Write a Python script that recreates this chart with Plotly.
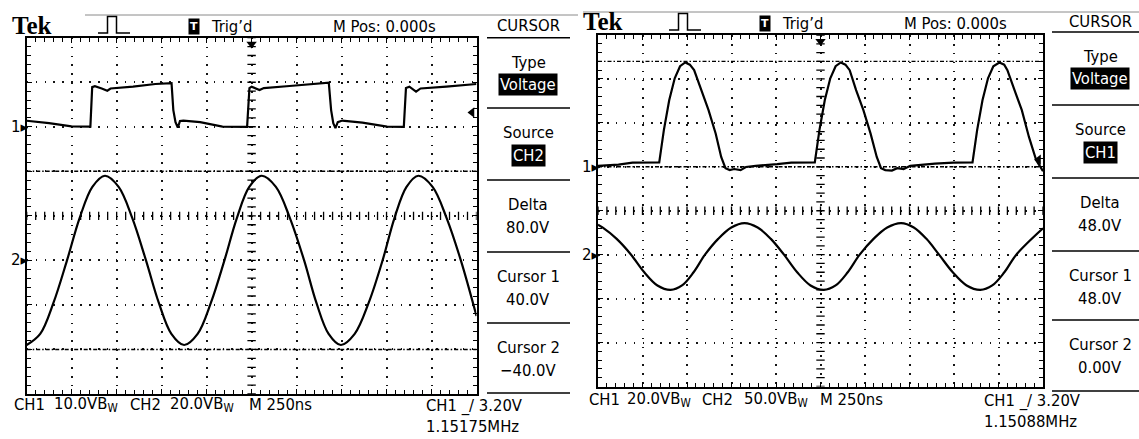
import plotly.graph_objects as go
import numpy as np

W, H = 1139, 439

# ---------------- data (time in ns, voltage in V) ----------------
# Left capture: CH1 10 V/div, CH2 20 V/div, 250 ns/div
L_CH1_T = [0, 124, 249, 354, 364, 379, 417, 448, 466, 591, 715, 796, 805, 815, 827, 840, 852, 871, 964, 1088,
           1225, 1238, 1250, 1294, 1318, 1461, 1667, 1679, 1692, 1704, 1716, 1729, 1754, 1866, 2003,
           2096, 2108, 2127, 2164, 2189, 2332, 2500]
L_CH1_V = [1.35, 0.83, 0.1, 0.04, 8.9, 9.1, 8.6, 8.1, 8.6, 9.0, 9.6, 9.9, 9.8, 3.75, 1.05, -0.2, 1.3, 1.4, 1.05, 0.05,
           0.0, 8.7, 9.0, 8.25, 8.7, 9.15, 10.0, 9.9, 3.75, 0.8, -0.3, 1.05, 1.4, 0.95, 0.05,
           0.0, 8.7, 9.0, 7.9, 8.6, 9.0, 9.6]
L_CH2_T = [0, 75, 149, 224, 294, 365, 435, 511, 587, 663, 734, 804, 875, 950, 1024, 1099, 1168, 1237, 1306,
           1385, 1463, 1542, 1610, 1678, 1746, 1823, 1901, 1978, 2044, 2111, 2177, 2256, 2334, 2413, 2500]
L_CH2_V = [-38, -33, -19, 0, 19, 33, 38, 33, 19, 0, -19, -33, -38, -33, -19, 0, 19, 33, 38,
           33, 19, 0, -19, -33, -38, -33, -19, 0, 19, 33, 38, 33, 19, 0, -25]

# Right capture: CH1 20 V/div, CH2 50 V/div, 250 ns/div
R_CH1_T = [0, 115, 194, 344, 370, 400, 431, 461, 490, 516, 540, 581, 621, 661, 692, 716, 740, 765, 801, 831,
           886, 1007, 1086, 1218, 1244, 1274, 1305, 1335, 1364, 1390, 1414, 1450, 1491, 1531, 1566, 1590,
           1614, 1651, 1681, 1717, 1754, 1893, 1996, 2104, 2130, 2160, 2191, 2221, 2255, 2282, 2300, 2340,
           2381, 2421, 2462, 2500]
R_CH1_V = [0.45, 1.0, 1.9, 2.0, 16.7, 30.3, 40.3, 45.8, 47.5, 46.5, 44.0, 34.9, 25.8, 15.2, 4.5, -0.6, -1.5, -1.0, -1.5, -0.1,
           0.45, 1.2, 1.9, 2.0, 16.7, 30.3, 40.3, 45.8, 47.5, 46.5, 44.0, 34.9, 25.8, 15.2, 4.5, -0.6,
           -1.5, -1.7, -0.6, -1.0, 0.45, 1.45, 1.9, 2.0, 16.7, 30.3, 40.3, 45.8, 47.5, 46.5, 44.0, 34.9,
           25.8, 13.6, 3.0, -2.0]
R_CH2_T = [0, 25, 105, 186, 260, 334, 408, 472, 537, 601, 675, 749, 823, 897, 971, 1045, 1119, 1194, 1268,
           1335, 1403, 1470, 1548, 1625, 1703, 1774, 1845, 1916, 1993, 2071, 2148, 2215, 2283, 2350, 2500]
R_CH2_V = [34, 31, 18, 0, -20, -35, -40, -35, -20, 0, 18, 31, 36, 31, 18, 0, -20, -35, -40,
           -35, -20, 0, 18, 31, 36, 31, 18, 0, -20, -35, -40, -35, -20, 0, 30]

TIME_DIV = 250.0
L_CH1_VDIV, L_CH2_VDIV = 10.0, 20.0
L_CH1_POS, L_CH2_POS = 2.0, -1.0      # ground position, divisions from centre
R_CH1_VDIV, R_CH2_VDIV = 20.0, 50.0
R_CH1_POS, R_CH2_POS = 1.0, -1.0
L_CURSORS = [40.0, -40.0]   # source CH2
R_CURSORS = [48.0, 0.0]     # source CH1
TRIG_LEVEL = 3.20

L_MENU = [("Type", "Voltage", True), ("Source", "CH2", True), ("Delta", "80.0V", False),
          ("Cursor 1", "40.0V", False), ("Cursor 2", "\u221240.0V", False)]
R_MENU = [("Type", "Voltage", True), ("Source", "CH1", True), ("Delta", "48.0V", False),
          ("Cursor 1", "48.0V", False), ("Cursor 2", "0.00V", False)]
L_BOTTOM = [("CH1", 12), ("10.0VB<sub>W</sub>", 52), ("CH2", 128), ("20.0VB<sub>W</sub>", 168), ("M 250ns", 247)]
R_BOTTOM = [("CH1", 587), ("20.0VB<sub>W</sub>", 625), ("CH2", 700), ("50.0VB<sub>W</sub>", 742), ("M 250ns", 818)]
L_FREQ, R_FREQ = "1.15175MHz", "1.15088MHz"

FONT = "Liberation Sans Narrow, DejaVu Sans Condensed, Arial Narrow, sans-serif"
SERIF = "Liberation Serif, DejaVu Serif, serif"
FS = 16.5


def fx(x):
    return x / W


def fy(y):
    return 1 - y / H


def vrange(vdiv, pos):
    return [(-4 - pos) * vdiv, (4 - pos) * vdiv]


fig = go.Figure()


def grid_axis(rng, dtick, domain, anchor):
    return dict(range=rng, domain=domain, anchor=anchor, dtick=dtick, tick0=0,
                showgrid=True, gridcolor='#151515', gridwidth=1.6, griddash='1.6px,7.3px',
                showline=True, linecolor='black', linewidth=2, mirror='ticks',
                ticks='inside', ticklen=5, tickwidth=1.3, tickcolor='black',
                showticklabels=False, zeroline=False, fixedrange=True,
                minor=dict(dtick=dtick / 5, tick0=0, ticks='inside', ticklen=4, tickwidth=1.3,
                           tickcolor='black', showgrid=False))


def hidden_axis(rng, over, anchor):
    return dict(range=rng, overlaying=over, anchor=anchor, visible=False, showgrid=False,
                zeroline=False, fixedrange=True)


def centre_ticks(xa, ya, rng, vdiv):
    yc = (rng[0] + rng[1]) / 2
    tx = np.arange(0, 10 * TIME_DIV + 1, TIME_DIV / 5)
    ty = np.arange(rng[0], rng[1] + 1e-9, vdiv / 5)
    mk = dict(size=6, color='black', line=dict(width=1.3, color='black'))
    fig.add_trace(go.Scatter(x=tx, y=[yc] * len(tx), xaxis=xa, yaxis=ya, mode='markers',
                             marker=dict(symbol='line-ns', **mk), hoverinfo='skip'))
    fig.add_trace(go.Scatter(x=[5 * TIME_DIV] * len(ty), y=ty, xaxis=xa, yaxis=ya, mode='markers',
                             marker=dict(symbol='line-ew', **mk), hoverinfo='skip'))


def wave(t, v, xa, ya, shape):
    fig.add_trace(go.Scatter(x=t, y=v, xaxis=xa, yaxis=ya, mode='lines',
                             line=dict(color='black', width=2.2, shape=shape), hoverinfo='skip'))


def marker(x, y, xa, ya, sym, size):
    fig.add_trace(go.Scatter(x=[x], y=[y], xaxis=xa, yaxis=ya, mode='markers', cliponaxis=False,
                             marker=dict(symbol=sym, size=size, color='black'), hoverinfo='skip'))


def txt(s, x, y, size=FS, xanchor='center', color='black', bg=None, family=FONT, bold=False):
    fig.add_annotation(text=s, x=fx(x), y=fy(y), xref='paper', yref='paper', xanchor=xanchor,
                       yanchor='middle', showarrow=False, bgcolor=bg, borderpad=1,
                       font=dict(family=family, size=size, color=color,
                                 weight='bold' if bold else 'normal'))


def hline(x0, x1, y, width=1.5, color='black'):
    fig.add_shape(type='line', xref='paper', yref='paper', x0=fx(x0), x1=fx(x1), y0=fy(y), y1=fy(y),
                  line=dict(color=color, width=width))


# ---------------- axes ----------------
L_R1, L_R2 = vrange(L_CH1_VDIV, L_CH1_POS), vrange(L_CH2_VDIV, L_CH2_POS)
R_R1, R_R2 = vrange(R_CH1_VDIV, R_CH1_POS), vrange(R_CH2_VDIV, R_CH2_POS)
L_BOX = (26.7, 476.5, 37.7, 394.0)
R_BOX = (598.0, 1043.0, 35.0, 386.5)

fig.update_layout(
    xaxis=grid_axis([0, 10 * TIME_DIV], TIME_DIV, [fx(L_BOX[0]), fx(L_BOX[1])], 'y'),
    yaxis=grid_axis(L_R1, L_CH1_VDIV, [fy(L_BOX[3]), fy(L_BOX[2])], 'x'),
    yaxis2=hidden_axis(L_R2, 'y', 'x'),
    xaxis2=grid_axis([0, 10 * TIME_DIV], TIME_DIV, [fx(R_BOX[0]), fx(R_BOX[1])], 'y3'),
    yaxis3=grid_axis(R_R1, R_CH1_VDIV, [fy(R_BOX[3]), fy(R_BOX[2])], 'x2'),
    yaxis4=hidden_axis(R_R2, 'y3', 'x2'),
)

centre_ticks('x', 'y', L_R1, L_CH1_VDIV)
centre_ticks('x2', 'y3', R_R1, R_CH1_VDIV)

wave(L_CH1_T, L_CH1_V, 'x', 'y', 'linear')
wave(L_CH2_T, L_CH2_V, 'x', 'y2', 'spline')
wave(R_CH1_T, R_CH1_V, 'x2', 'y3', 'linear')
wave(R_CH2_T, R_CH2_V, 'x2', 'y4', 'spline')

# cursors
CUR_DASH = '4px,2px,1.5px,2px'
for c in L_CURSORS:
    fig.add_shape(type='line', xref='x domain', x0=0, x1=1, yref='y2', y0=c, y1=c,
                  line=dict(color='black', width=1.4, dash=CUR_DASH))
for c in R_CURSORS:
    fig.add_shape(type='line', xref='x2 domain', x0=0, x1=1, yref='y3', y0=c, y1=c,
                  line=dict(color='black', width=1.4, dash=CUR_DASH))

# ground markers (channel number + arrow head at the channel's 0 V level)
for lab, xr, ya in [("1", 'x domain', 'y'), ("2", 'x domain', 'y2'),
                    ("1", 'x2 domain', 'y3'), ("2", 'x2 domain', 'y4')]:
    fig.add_annotation(text=lab + "\u25b8", x=0, y=0, xref=xr, yref=ya, xanchor='right', yanchor='middle',
                       showarrow=False, xshift=4, font=dict(family="DejaVu Sans", size=15, color='black'))

# trigger level arrows (right edge) and trigger position arrows (top)
marker(10 * TIME_DIV - 25, TRIG_LEVEL, 'x', 'y', 'triangle-left', 9)
marker(10 * TIME_DIV - 25, TRIG_LEVEL, 'x2', 'y3', 'triangle-left', 9)
marker(5 * TIME_DIV, L_R1[1] - 0.14 * L_CH1_VDIV, 'x', 'y', 'triangle-down', 9)
marker(5 * TIME_DIV, R_R1[1] - 0.14 * R_CH1_VDIV, 'x2', 'y3', 'triangle-down', 9)

# ---------------- header, menu, footer ----------------
for dx, dy, menu, menu_cx, menu_x0, menu_x1, lines, bottom, by, freq, fxl, rule in [
    (0, 0, L_MENU, 528, 487, 570, [37.7, 108, 180, 252, 323, 393], L_BOTTOM, 404, L_FREQ, 424, (85, 578, 15)),
    (571, -3, R_MENU, 1100, 1052, 1139, [32, 105, 178, 251, 320, 391], R_BOTTOM, 399, R_FREQ, 982, (583, 1139, 12)),
]:
    hline(rule[0], rule[1], rule[2], width=1, color='#8a8a8a')
    txt("Tek", 10 + dx, 25 + dy, size=25, xanchor='left', family=SERIF, bold=True)
    x0 = 98 + dx
    fig.add_shape(type='path', xref='paper', yref='paper',
                  path=f"M {fx(x0)} {fy(33 + dy)} L {fx(x0 + 9.5)} {fy(33 + dy)} L {fx(x0 + 9.5)} {fy(16.5 + dy)} "
                       f"L {fx(x0 + 18.5)} {fy(16.5 + dy)} L {fx(x0 + 18.5)} {fy(33 + dy)} L {fx(x0 + 32)} {fy(33 + dy)}",
                  line=dict(color='black', width=1.5))
    txt("<b>T</b>", 193.5 + dx, 26 + dy, size=11, color='white', bg='black', family="DejaVu Sans")
    txt("Trig\u2019d", 209 + dx, 26 + dy, xanchor='left')
    txt("M Pos: 0.000s", 331 + dx, 26 + dy, xanchor='left')
    txt("CURSOR", menu_cx, 25 + dy)
    for y in lines:
        hline(menu_x0, menu_x1, y, width=1.6)
    for i, (a, b, inv) in enumerate(menu):
        top = lines[i]
        txt(a, menu_cx, top + 24.5)
        if inv:
            txt(b, menu_cx, top + 47, color='white', bg='black')
        else:
            txt(b, menu_cx, top + 47)
    for s, x in bottom:
        txt(s, x, by, xanchor='left')
    txt("CH1 _/ 3.20V", fxl, by + 2, xanchor='left')
    txt(freq, fxl, by + 22, xanchor='left')

fig.update_layout(width=W, height=H, margin=dict(l=0, r=0, t=0, b=0), showlegend=False,
                  paper_bgcolor='white', plot_bgcolor='white')
fig.write_html("out.html")
